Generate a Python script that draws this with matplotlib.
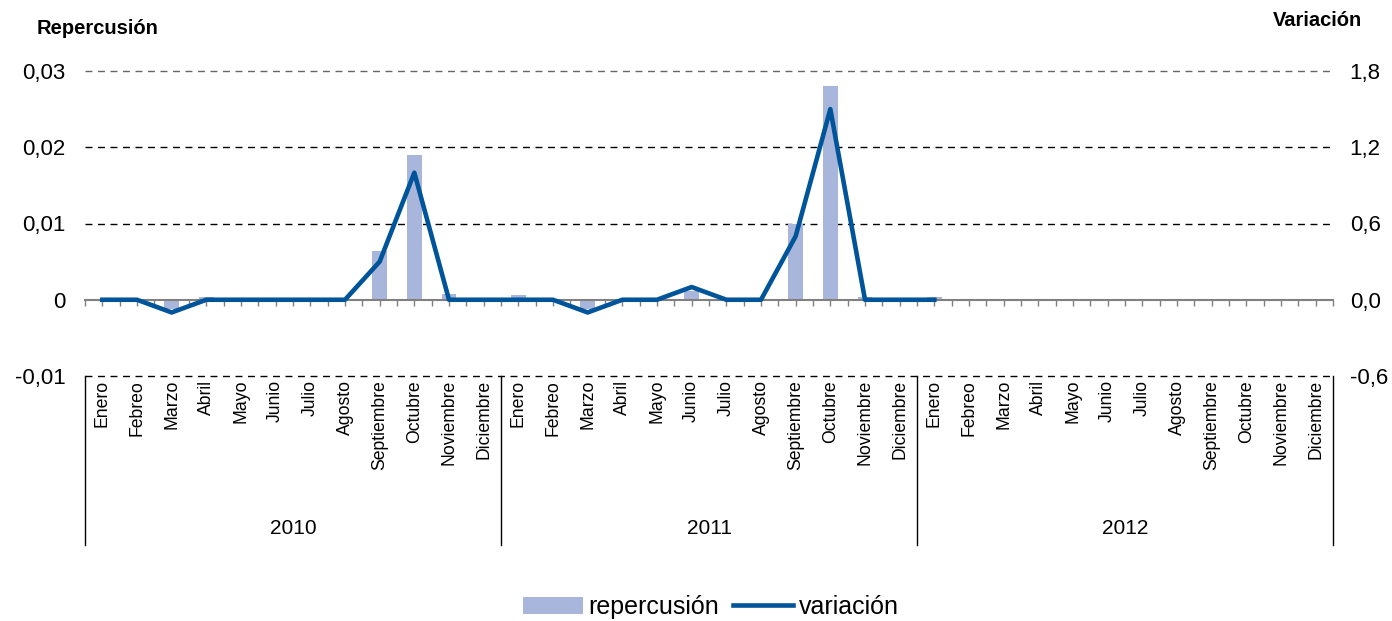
import matplotlib
matplotlib.use("Agg")
import matplotlib.pyplot as plt
import matplotlib.transforms as mtransforms
from matplotlib.ticker import FuncFormatter
import numpy as np

plt.rcParams["font.family"] = ["Liberation Sans", "DejaVu Sans"]

months = ["Enero", "Febreo", "Marzo", "Abril", "Mayo", "Junio", "Julio",
          "Agosto", "Septiembre", "Octubre", "Noviembre", "Diciembre"]
years = ["2010", "2011", "2012"]

nan = np.nan
repercusion = [0, 0, -0.0012, 0.0003, 0, 0, 0, 0, 0.0064, 0.019, 0.0008, 0.0001,
               0.0006, 0.0001, -0.0012, 0, 0, 0.0011, 0, 0, 0.01, 0.028, 0.0003, 0.0002,
               0.0003, nan, nan, nan, nan, nan, nan, nan, nan, nan, nan, nan]
variacion = [0, 0, -0.1, 0, 0, 0, 0, 0, 0.3, 1.0, 0, 0,
             0, 0, -0.1, 0, 0, 0.1, 0, 0, 0.5, 1.5, 0, 0,
             0, nan, nan, nan, nan, nan, nan, nan, nan, nan, nan, nan]

bar_color = "#A9B6DB"
line_color = "#00549A"

fig = plt.figure(figsize=(13.92, 6.21), dpi=100)
ax = fig.add_axes([85 / 1392, 1 - 376 / 621, (1333 - 85) / 1392, (376 - 71) / 621])
ax2 = ax.twinx()

x = np.arange(len(repercusion))
bars = ax.bar(x, repercusion, width=0.43, color=bar_color, label="repercusión", zorder=2)
line, = ax2.plot(x, variacion, color=line_color, lw=3.3, label="variación", zorder=3)

ax.set_xlim(-0.5, len(x) - 0.5)
ax.set_ylim(-0.01, 0.03)
ax2.set_ylim(-0.6, 1.8)
ax.set_yticks([-0.01, 0, 0.01, 0.02, 0.03])
ax2.set_yticks([-0.6, 0.0, 0.6, 1.2, 1.8])

ax.yaxis.set_major_formatter(FuncFormatter(
    lambda v, p: "0" if abs(v) < 1e-12 else f"{v:.2f}".replace(".", ",")))
ax2.yaxis.set_major_formatter(FuncFormatter(lambda v, p: f"{v:.1f}".replace(".", ",")))
ax.tick_params(axis="y", length=0, labelsize=16, pad=14)
ax2.tick_params(axis="y", length=0, labelsize=16, pad=12)
for a in (ax, ax2):
    for s in a.spines.values():
        s.set_visible(False)

# dashed gridlines except at zero
for v, c in [(-0.01, "black"), (0.01, "black"), (0.02, "black"), (0.03, "#666666")]:
    ax.axhline(v, color=c, lw=1, ls=(0, (5, 4)), zorder=1, clip_on=False)

# category axis sitting at zero with half-category ticks
ax.spines["bottom"].set_visible(True)
ax.spines["bottom"].set_position(("data", 0))
ax.spines["bottom"].set_color("#808080")
ax.spines["bottom"].set_linewidth(1.5)
ax.set_xticks(np.arange(-0.5, len(x), 0.5))
ax.tick_params(axis="x", direction="out", length=4, color="#808080", width=1, labelbottom=False)

# month and year labels below the plot
trans = mtransforms.blended_transform_factory(ax.transData, ax.transAxes)
for i in x:
    ax.text(i, -0.013, months[i % 12], rotation=90, ha="center", va="top",
            fontsize=12.7, transform=trans)
for k, yr in enumerate(years):
    ax.text(k * 12 + 5.5, -0.50, yr, ha="center", va="center", fontsize=15, transform=trans)
for b in np.arange(-0.5, len(x), 12):
    ax.plot([b, b], [0, -0.555], color="black", lw=1, transform=trans, clip_on=False)

fig.text(37 / 1392, 1 - 29 / 621, "Repercusión", fontsize=14.5, fontweight="bold", va="center")
fig.text(1362 / 1392, 1 - 21 / 621, "Variación", fontsize=14.5, fontweight="bold",
         va="center", ha="right")

fig.legend([bars, line], ["repercusión", "variación"], loc="center",
           bbox_to_anchor=(711 / 1392, 1 - 607 / 621), ncol=2, frameon=False,
           fontsize=18, handlelength=2.4, handletextpad=0.23, columnspacing=0.55)

fig.savefig("out.png", dpi=100)
